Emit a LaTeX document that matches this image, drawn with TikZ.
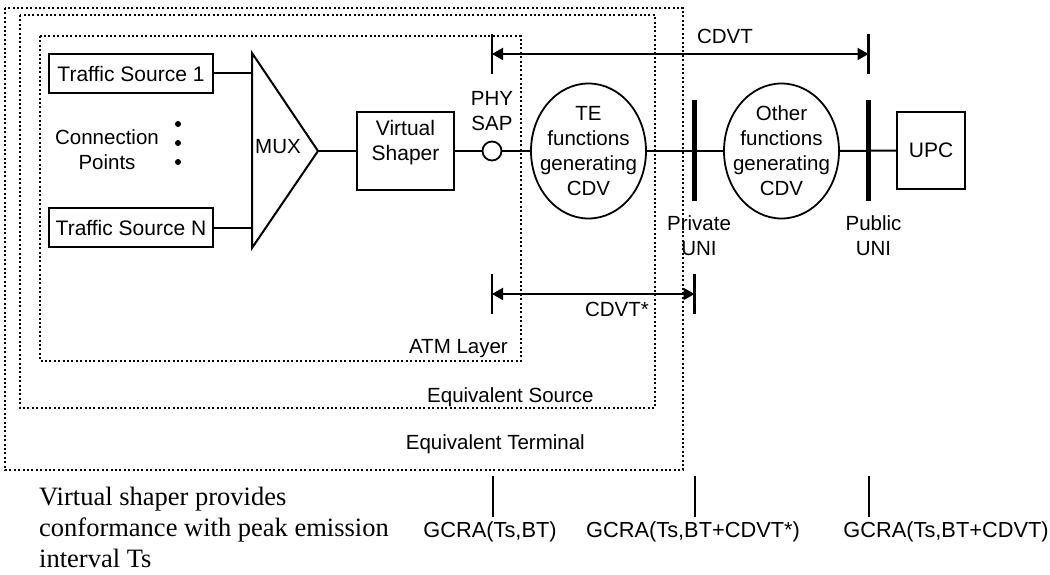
\documentclass[tikz,border=0pt]{standalone}
\usepackage{fontspec}
\setmainfont{Liberation Sans}
\newfontfamily\notefont{Liberation Serif}
\usepackage{tikz}
\usetikzlibrary{positioning, calc, arrows.meta, shapes.geometric}

\begin{document}
\begin{tikzpicture}[
    x=1pt, y=-1pt,
    block/.style    = {rectangle, draw, line width=1.3pt, inner sep=0pt,
                       font=\fontsize{21}{25}\selectfont, align=center},
    func/.style     = {ellipse, draw, line width=1.8pt, inner xsep=-9pt, inner ysep=0pt,
                       minimum width=115pt, minimum height=135pt,
                       font=\fontsize{20.5}{25}\selectfont, align=center},
    sap/.style      = {circle, draw, line width=1.8pt, fill=white,
                       minimum size=19pt, inner sep=0pt},
    dot/.style      = {circle, fill, minimum size=6pt, inner sep=0pt},
    zone/.style     = {draw, line width=1.3pt, dash pattern=on 2pt off 2.4pt},
    wire/.style     = {line width=2pt},
    uni/.style      = {line width=4.5pt},
    tick/.style     = {line width=2.4pt},
    span/.style     = {line width=2pt,
                       {Triangle[length=11pt, width=12pt]}-{Triangle[length=11pt, width=12pt]}},
    lbl/.style      = {font=\fontsize{20.5}{25}\selectfont, align=center, inner sep=0pt},
    gcra/.style     = {font=\fontsize{21.8}{26}\selectfont, inner sep=0pt},
    note/.style     = {font=\notefont\fontsize{26.5}{31}\selectfont, align=left, inner sep=0pt},
]
\useasboundingbox (0,0) rectangle (1050,575);

%% ============================================================
%% NESTED REGIONS
%% ============================================================

\draw[zone] (5,8)   rectangle (683,470);   % equivalent terminal
\draw[zone] (20,15) rectangle (655,408);   % equivalent source
\draw[zone] (40,36) rectangle (521,361);   % ATM layer

\node[lbl, anchor=east] (atmlbl)  at (508,349) {ATM Layer};
\node[lbl, anchor=west] (srclbl)  at (427,397) {Equivalent Source};
\node[lbl, anchor=east] (termlbl) at (585,444) {Equivalent Terminal};

%% ============================================================
%% SOURCES AND MUX
%% ============================================================

\node[block, minimum width=164pt, minimum height=39pt] (src1) at (131,73.5)  {Traffic Source 1};
\node[block, minimum width=164pt, minimum height=39pt] (srcN) at (131,227.5) {Traffic Source N};

\node[lbl] (cpts) at (107,149.5) {Connection\\Points};
\foreach \y [count=\i] in {124,143,162}
    \node[dot] (dot\i) at (178,\y) {};

\draw[wire, line join=miter] (252,53) coordinate (muxTop)
    -- (318,151) coordinate (muxTip)
    -- (252,248) coordinate (muxBot) -- cycle;
\node[lbl] (mux) at (278,147) {MUX};

%% ============================================================
%% MAIN CHAIN
%% ============================================================

\node[block, minimum width=97pt, minimum height=78pt, text depth=22pt] (shaper) at (405.5,151) {Virtual\\Shaper};
\node[sap]  (phy)   at (492,151) {};
\node[lbl]  (phylbl) at (492,111) {PHY\\SAP};
\node[func] (te)    at (588.5,151) {TE\\functions\\generating\\CDV};
\node[func] (other) at (781.5,151) {Other\\functions\\generating\\CDV};
\node[block, minimum width=68pt, minimum height=77pt] (upc) at (931,150.5) {UPC};

\draw[wire] (src1.east) -- (src1.east -| muxTop);
\draw[wire] (srcN.east) -- (srcN.east -| muxTop);
\draw[wire] (muxTip)    -- (shaper.west);
\draw[wire] (shaper.east) -- (phy.west);
\draw[wire] (phy.east)  -- (te.west);
\draw[wire] (te.east)   -- (other.west);
\draw[wire] (other.east) -- (upc.west);

%% UNI reference points
\coordinate (privTop) at (694.5,100);
\coordinate (privBot) at (694.5,201);
\coordinate (pubTop)  at (868.5,100);
\coordinate (pubBot)  at (868.5,201);
\draw[uni] (privTop) -- (privBot);
\draw[uni] (pubTop)  -- (pubBot);
\node[lbl] (privlbl) at (699,236)   {Private\\UNI};
\node[lbl] (publbl)  at (873.5,236) {Public\\UNI};

%% ============================================================
%% TOLERANCE SPANS
%% ============================================================

\coordinate (cdvtL)  at (492,54);
\coordinate (cdvtR)  at (868.5,54);
\coordinate (cdvtsL) at (492,294);
\coordinate (cdvtsR) at (694.5,294);

\foreach \p in {cdvtL, cdvtR, cdvtsL, cdvtsR}
    \draw[tick] ([yshift=20pt]\p) -- ([yshift=-20pt]\p);
\draw[span] (cdvtL)  -- (cdvtR);
\draw[span] (cdvtsL) -- (cdvtsR);

\node[lbl] (cdvtlbl)  at (725,36)  {CDVT};
\node[lbl] (cdvtslbl) at (617,309) {CDVT*};

%% ============================================================
%% CONFORMANCE TESTS
%% ============================================================

\coordinate (gcra1) at (492.5,476);
\coordinate (gcra2) at (695,476);
\coordinate (gcra3) at (869,476);
\foreach \p in {gcra1, gcra2, gcra3}
    \draw[wire] (\p) -- ++(0,41);

\node[gcra] (gcra1lbl) at (490,532) {GCRA(Ts,BT)};
\node[gcra] (gcra2lbl) at (693,532) {GCRA(Ts,BT+CDVT*)};
\node[gcra] (gcra3lbl) at (946,532) {GCRA(Ts,BT+CDVT)};

\node[note, anchor=north west] (shapenote) at (39,487)
    {Virtual shaper provides\\conformance with peak emission\\interval Ts};

\end{tikzpicture}
\end{document}
